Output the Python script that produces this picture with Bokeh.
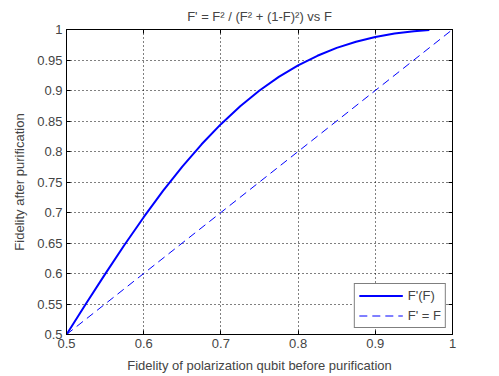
from bokeh.plotting import figure
from bokeh.models import LinearAxis, FixedTicker, Legend, LegendItem, Range1d, Grid, CustomJSTickFormatter
from bokeh.embed import file_html
from bokeh.resources import INLINE

# data
F = [0.5, 0.525, 0.55, 0.575, 0.6, 0.625, 0.65, 0.675, 0.7, 0.725, 0.75,
     0.775, 0.8, 0.825, 0.85, 0.875, 0.9, 0.925, 0.95, 0.97]
F_pur = [0.5, 0.5499, 0.599, 0.6467, 0.6923, 0.7353, 0.7752, 0.8118, 0.8448,
         0.8742, 0.9, 0.9223, 0.9412, 0.9569, 0.9698, 0.98, 0.9878, 0.9935,
         0.9972, 0.999]
ident_x = [0.5, 1.0]
ident_y = [0.5, 1.0]
xticks = [0.5, 0.6, 0.7, 0.8, 0.9, 1.0]
yticks = [0.5, 0.55, 0.6, 0.65, 0.7, 0.75, 0.8, 0.85, 0.9, 0.95, 1.0]
xtick_labels = {0.5: "0.5", 0.6: "0.6", 0.7: "0.7", 0.8: "0.8", 0.9: "0.9", 1.0: "1"}
ytick_labels = {0.5: "0.5", 0.55: "0.55", 0.6: "0.6", 0.65: "0.65", 0.7: "0.7",
                0.75: "0.75", 0.8: "0.8", 0.85: "0.85", 0.9: "0.9", 0.95: "0.95", 1.0: "1"}

FONT = "Liberation Sans"
FS = "13px"

p = figure(width=491, height=375, output_backend="svg", toolbar_location=None,
           x_range=Range1d(0.5, 1.0), y_range=Range1d(0.5, 1.0),
           x_axis_type=None, y_axis_type=None,
           min_border_left=66, min_border_right=39, min_border_top=29, min_border_bottom=34,
           title="F' = F² / (F² + (1-F)²) vs F")
p.title.align = "center"
p.title.text_font = FONT
p.title.text_font_size = "13px"
p.title.text_font_style = "normal"
p.title.standoff = 12
p.outline_line_color = "black"
p.outline_line_width = 1
p.background_fill_color = "white"
p.border_fill_color = "white"


def mk_axis(labels=True, lbl=None):
    ax = LinearAxis()
    ax.major_tick_in = 4
    ax.major_tick_out = 0
    ax.minor_tick_in = 0
    ax.minor_tick_out = 0
    ax.axis_line_color = "black"
    ax.major_tick_line_color = "black"
    ax.major_label_text_font = FONT
    ax.major_label_text_font_size = FS
    ax.major_label_standoff = 4
    if not labels:
        ax.formatter = CustomJSTickFormatter(code="return ''")
        ax.major_label_standoff = 0
    if lbl:
        ax.axis_label = lbl
        ax.axis_label_text_font = FONT
        ax.axis_label_text_font_size = FS
        ax.axis_label_text_font_style = "normal"
        ax.axis_label_standoff = 7
    return ax


xb = mk_axis(True, "Fidelity of polarization qubit before purification")
xb.ticker = FixedTicker(ticks=xticks)
xb.major_label_overrides = xtick_labels
yl = mk_axis(True, "Fidelity after purification")
yl.ticker = FixedTicker(ticks=yticks)
yl.major_label_overrides = ytick_labels
xt = mk_axis(False)
xt.ticker = FixedTicker(ticks=xticks)
yr = mk_axis(False)
yr.ticker = FixedTicker(ticks=yticks)
p.add_layout(xb, "below")
p.add_layout(yl, "left")
p.add_layout(xt, "above")
p.add_layout(yr, "right")

gx = Grid(dimension=0, ticker=FixedTicker(ticks=xticks[1:-1]))
gy = Grid(dimension=1, ticker=FixedTicker(ticks=yticks[1:-1]))
for g in (gx, gy):
    g.grid_line_color = "black"
    g.grid_line_dash = "1 3"
    g.grid_line_width = 1
    p.add_layout(g)

r1 = p.line(F, F_pur, line_color="#0000ff", line_width=2)
r2 = p.line(ident_x, ident_y, line_color="#0000ff", line_width=1, line_dash="8 5")

leg = Legend(items=[LegendItem(label="F'(F)", renderers=[r1]),
                    LegendItem(label="F' = F", renderers=[r2])],
             location="bottom_right")
leg.border_line_color = "black"
leg.border_line_width = 1
leg.background_fill_alpha = 1
leg.label_text_font = FONT
leg.label_text_font_size = FS
leg.glyph_width = 44
leg.glyph_height = 15
leg.label_height = 15
leg.spacing = 5
leg.padding = 4
leg.margin = 6
leg.label_standoff = 5
p.add_layout(leg, "center")

open("out.html", "w").write(file_html(p, INLINE))
